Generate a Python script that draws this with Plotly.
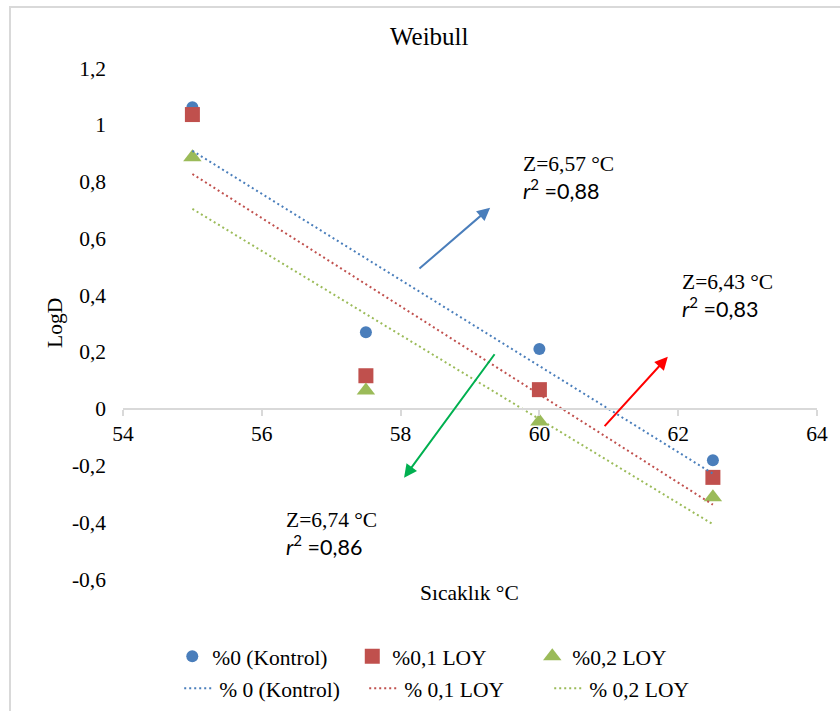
import numpy as np
import plotly.graph_objects as go

# Temperatures (°C) and LogD values per treatment
temps = [55, 57.5, 60, 62.5]
logd_kontrol = [1.062, 0.269, 0.210, -0.182]
logd_loy01 = [1.036, 0.116, 0.067, -0.242]
logd_loy02 = [0.886, 0.064, -0.045, -0.312]

marker_names = ["%0 (Kontrol)", "%0,1 LOY", "%0,2 LOY"]
trend_names = ["% 0 (Kontrol)", "% 0,1 LOY", "% 0,2 LOY"]

x_ticks = [54, 56, 58, 60, 62, 64]
x_ticktext = ["54", "56", "58", "60", "62", "64"]
y_ticks = [1.2, 1.0, 0.8, 0.6, 0.4, 0.2, 0.0, -0.2, -0.4, -0.6]
y_ticktext = ["1,2", "1", "0,8", "0,6", "0,4", "0,2", "0", "-0,2", "-0,4", "-0,6"]

# D-value statistics shown next to the trend lines
z_labels = ["Z=6,57 °C", "Z=6,43 °C", "Z=6,74 °C"]
r2_labels = ["0,88", "0,83", "0,86"]

colors = ["#4a7ebb", "#c0504d", "#9bbb59"]
symbols = ["circle", "square", "triangle-up"]
sizes = [12, 15, 16]
series = [logd_kontrol, logd_loy01, logd_loy02]

SERIF = "Liberation Serif, Times New Roman, serif"
SANS = "Lato, Liberation Sans, sans-serif"
FS = 21.5

fig = go.Figure()

for name, ys, c, s, sz in zip(marker_names, series, colors, symbols, sizes):
    fig.add_trace(go.Scatter(
        x=temps, y=ys, mode="markers", name=name,
        marker=dict(color=c, symbol=s, size=sz, line=dict(width=0)),
        legend="legend",
    ))

# Linear trend lines fitted to each series
for name, ys, c in zip(trend_names, series, colors):
    slope, icpt = np.polyfit(temps, ys, 1)
    xs = [min(temps), max(temps)]
    fig.add_trace(go.Scatter(
        x=xs, y=[slope * v + icpt for v in xs], mode="lines", name=name,
        line=dict(color=c, width=2, dash="2px,3px"),
        legend="legend2",
    ))

y_min, y_max = -0.6, 1.2

fig.update_layout(
    width=840, height=711,
    margin=dict(l=123, r=23, t=68, b=132, autoexpand=False),
    paper_bgcolor="white", plot_bgcolor="white",
    font=dict(family=SERIF, size=FS, color="#000000"),
    title=dict(text="Weibull", x=0.511, xref="container", xanchor="center",
               y=1 - 36 / 711, yref="container", yanchor="middle",
               font=dict(family=SERIF, size=25, color="#000000")),
    xaxis=dict(range=[54, 64], anchor="free", position=(0 - y_min) / (y_max - y_min),
               showgrid=False, zeroline=False, showline=True,
               linecolor="#d9d9d9", linewidth=2,
               ticks="outside", ticklen=6, tickcolor="#d9d9d9", tickwidth=1.5,
               tickvals=x_ticks, ticktext=x_ticktext, ticklabelstandoff=0,
               tickfont=dict(family=SERIF, size=FS, color="#000000")),
    yaxis=dict(range=[y_min, y_max], showgrid=False, zeroline=False, showline=False,
               ticks="", tickvals=y_ticks, ticktext=y_ticktext, ticklabelstandoff=16,
               tickfont=dict(family=SERIF, size=FS, color="#000000")),
    legend=dict(orientation="h", x=0.071, xanchor="left", y=-0.151, yanchor="middle",
                entrywidth=135, font=dict(family=SERIF, size=FS, color="#000000"),
                bgcolor="rgba(0,0,0,0)", itemwidth=30),
    legend2=dict(orientation="h", x=0.081, xanchor="left", y=-0.214, yanchor="middle",
                 entrywidth=140, font=dict(family=SERIF, size=FS, color="#000000"),
                 bgcolor="rgba(0,0,0,0)", itemwidth=30),
    showlegend=True,
)

# Outer chart frame
fig.add_shape(type="rect", xref="paper", yref="paper",
              x0=(10 - 123) / 694, x1=(850 - 123) / 694,
              y0=(579 - 7) / 511, y1=(579 - 730) / 511,
              line=dict(color="#d9d9d9", width=2), fillcolor="rgba(0,0,0,0)", layer="below")

# Axis titles
fig.add_annotation(text="LogD", xref="paper", yref="paper",
                   x=(55 - 123) / 694, y=(579 - 323) / 511, textangle=-90,
                   xanchor="center", yanchor="middle",
                   showarrow=False, font=dict(family=SERIF, size=FS, color="#000000"))
fig.add_annotation(text="Sıcaklık °C", xref="paper", yref="paper",
                   x=(469 - 123) / 694, y=(579 - 593) / 511,
                   xanchor="center", yanchor="middle",
                   showarrow=False, font=dict(family=SERIF, size=FS, color="#000000"))

# Statistic labels (x, y of the Z line, then the r² line below)
label_pos = [(59.74, 0.862, 0.772), (62.02, 0.447, 0.356), (56.32, -0.391, -0.482)]
for (lx, zy, ry), zt, rt in zip(label_pos, z_labels, r2_labels):
    fig.add_annotation(x=lx, y=zy, text=zt, xanchor="left", yanchor="middle",
                       showarrow=False, font=dict(family=SERIF, size=FS, color="#000000"))
    fig.add_annotation(x=lx, y=ry, text="<i>r</i><sup>2</sup> =" + rt,
                       xanchor="left", yanchor="middle",
                       showarrow=False, font=dict(family=SANS, size=FS, color="#000000"))

# Arrows pointing from the trend lines to their labels: (tail x, tail y, head x, head y)
arrows = [
    (58.25, 0.489, 59.29, 0.708, "#4a7ebb"),
    (60.92, -0.067, 61.85, 0.183, "#ff0000"),
    (59.37, 0.197, 58.05, -0.243, "#00b050"),
]
for tx, ty, hx, hy, c in arrows:
    fig.add_annotation(x=hx, y=hy, ax=tx, ay=ty, axref="x", ayref="y",
                       text="", showarrow=True, arrowhead=2, arrowsize=1.3,
                       arrowwidth=2, arrowcolor=c)

fig.write_html("out.html")
